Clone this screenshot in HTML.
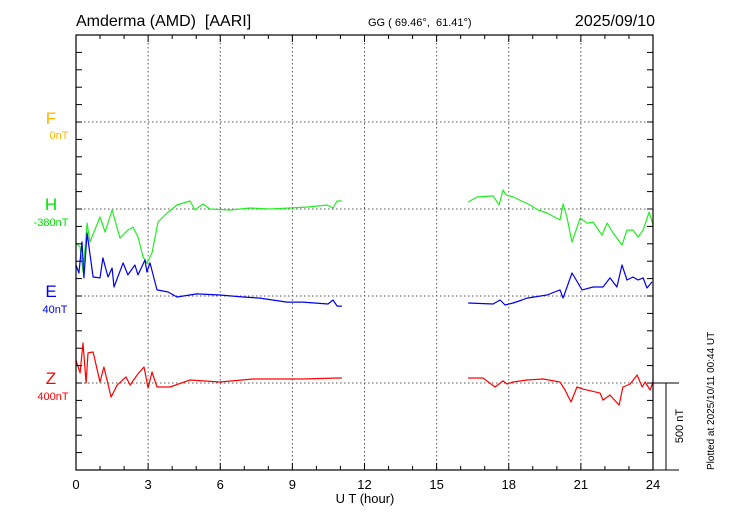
<!DOCTYPE html>
<html><head><meta charset="utf-8"><style>
body{margin:0;background:#fff;}
svg{display:block;font-family:"Liberation Sans",sans-serif;}
</style></head><body>
<svg id="chart" width="730" height="520" viewBox="0 0 730 520">
<text x="76" y="26" font-size="16">Amderma (AMD)&#160; [AARI]</text>
<text x="368" y="26" font-size="11">GG ( 69.46°,&#160; 61.41°)</text>
<text x="655" y="26" font-size="16" text-anchor="end">2025/09/10</text>
<g id="grid"></g>
<g id="series"></g>
<rect x="76" y="35" width="577" height="435" fill="none" stroke="#000" stroke-width="1.2"/>
<g id="ticks"></g>
<g text-anchor="middle">
<text x="51" y="124" font-size="17" fill="#ffb400">F</text>
<text x="59" y="139" font-size="11" fill="#ffb400">0nT</text>
<text x="51" y="210" font-size="17" fill="#00e000">H</text>
<text x="51" y="226" font-size="11" fill="#00e000">-380nT</text>
<text x="51" y="297" font-size="17" fill="#0000ee">E</text>
<text x="55" y="313" font-size="11" fill="#0000ee">40nT</text>
<text x="51" y="384" font-size="17" fill="#ff0000">Z</text>
<text x="53" y="400" font-size="11" fill="#ff0000">400nT</text>
</g>
<text x="365" y="503" font-size="13" text-anchor="middle">U T (hour)</text>
<g stroke="#000" stroke-width="1">
<line x1="653" y1="383" x2="679" y2="383"/><line x1="666" y1="383" x2="666" y2="470"/><line x1="653" y1="470" x2="679" y2="470"/>
</g>
<text transform="translate(683,426) rotate(-90)" font-size="11" text-anchor="middle">500 nT</text>
<text transform="translate(714,470) rotate(-90)" font-size="10">Plotted at 2025/10/11 00:44 UT</text>
</svg>
<script>
const xTickLabels=["0","3","6","9","12","15","18","21","24"];
const hTime=[0,0.17,0.29,0.46,0.58,1.00,1.21,1.50,1.83,2.16,2.37,2.58,2.79,2.95,3.16,3.41,3.79,4.20,4.74,4.95,5.28,5.57,6.41,7.24,8.07,8.90,9.73,10.44,10.69,10.86,11.06,null,16.31,16.68,17.35,17.60,17.76,17.89,18.18,18.89,19.22,19.59,20.13,20.26,20.42,20.63,20.97,21.26,21.51,21.88,22.09,22.34,22.71,22.92,23.17,23.38,23.59,23.84,24.00];
const hVals=[-195,-219,-362,-81,-190,-46,-132,-6,-167,-121,-104,-161,-276,-311,-253,-75,-23,23,46,-6,29,0,-6,6,0,6,12,23,6,46,46,null,40,69,75,23,109,81,69,23,-6,-23,-63,29,-46,-190,-52,-81,-75,-150,-81,-138,-207,-121,-121,-161,-121,-17,-92];
const eTime=[0,0.12,0.25,0.33,0.46,0.71,1.00,1.12,1.33,1.50,1.58,1.96,2.16,2.45,2.58,2.87,2.95,3.08,3.37,3.83,4.20,5.03,5.99,6.95,7.65,8.78,9.44,10.48,10.69,10.86,11.06,null,16.31,17.35,17.64,17.85,18.18,18.55,18.76,19.59,20.13,20.26,20.63,21.05,21.51,21.92,22.21,22.50,22.71,22.92,23.17,23.38,23.59,23.75,23.96];
const eVals=[178,132,311,104,362,109,104,219,109,161,52,190,121,178,121,207,138,190,35,23,-6,12,6,-6,-12,-35,-35,-46,-23,-58,-58,null,-40,-46,-23,-52,-40,-23,-12,6,35,-12,132,35,52,52,104,52,178,92,109,92,104,46,81];
const zTime=[0,0.17,0.29,0.42,0.50,0.71,1.00,1.16,1.46,1.71,2.08,2.25,2.54,2.83,3.00,3.16,3.37,3.91,4.74,5.99,7.36,9.44,10.86,11.06,null,16.31,16.93,17.43,17.76,17.93,18.18,18.76,19.43,20.13,20.34,20.59,20.84,21.09,21.80,21.92,22.21,22.59,22.75,23.05,23.34,23.55,23.67,23.88,24.00];
const zVals=[132,58,230,0,173,178,6,92,-81,-12,35,-12,46,92,-29,63,-23,-23,17,6,23,23,29,29,null,29,29,-23,12,-6,6,17,23,6,-40,-109,-23,-35,-58,-98,-69,-127,-23,-6,46,-23,6,-40,6];

const NS="http://www.w3.org/2000/svg";
const X0=76,X1=653,Y0=35,Y1=470;
const xScale=h=>X0+h*(X1-X0)/24;
const nTperPx=500/87;
const yScale=(base,v)=>base-v/nTperPx;
function mk(tag,attrs,parent){const e=document.createElementNS(NS,tag);for(const k in attrs)e.setAttribute(k,attrs[k]);parent.appendChild(e);return e;}
const grid=document.getElementById('grid'),ticks=document.getElementById('ticks'),series=document.getElementById('series'),svg=document.getElementById('chart');
for(let h=3;h<24;h+=3){const l=mk('line',{x1:xScale(h),x2:xScale(h),y1:Y0,y2:Y1,stroke:'#555','stroke-dasharray':'1.5,2.5'},grid);

}
[122,209,296,383].forEach(y=>{const l=mk('line',{x1:X0,x2:X1,y1:y,y2:y,stroke:'#555','stroke-dasharray':'1.5,2.5'},grid);

});
for(let h=0;h<=24;h++){const x=xScale(h),len=h%3===0?7:4;
mk('line',{x1:x,x2:x,y1:Y1,y2:Y1-len,stroke:'#000'},ticks);mk('line',{x1:x,x2:x,y1:Y0,y2:Y0+len,stroke:'#000'},ticks);}
xTickLabels.forEach((t,i)=>{const tx=mk('text',{x:xScale(i*3),y:489,'font-size':13,'text-anchor':'middle'},svg);tx.textContent=t;

});
for(let i=0;i<=25;i++){const y=Y0+i*(Y1-Y0)/25;
mk('line',{x1:X0,x2:X0+6,y1:y,y2:y,stroke:'#000'},ticks);mk('line',{x1:X1,x2:X1-6,y1:y,y2:y,stroke:'#000'},ticks);}
function draw(times,vals,base,color,name){let d='',pen=false;
for(let i=0;i<times.length;i++){if(times[i]===null||vals[i]===null){pen=false;continue;}
d+=(pen?'L':'M')+xScale(times[i]).toFixed(1)+' '+yScale(base,vals[i]).toFixed(1);pen=true;}
const p=mk('path',{d:d,fill:'none',stroke:color,'stroke-width':1.2,'stroke-linejoin':'round'},series);

}
draw(hTime,hVals,209,'#22ee22','h-series-line');
draw(eTime,eVals,296,'#0000ee','e-series-line');
draw(zTime,zVals,383,'#ff0000','z-series-line');
</script>
</body></html>
